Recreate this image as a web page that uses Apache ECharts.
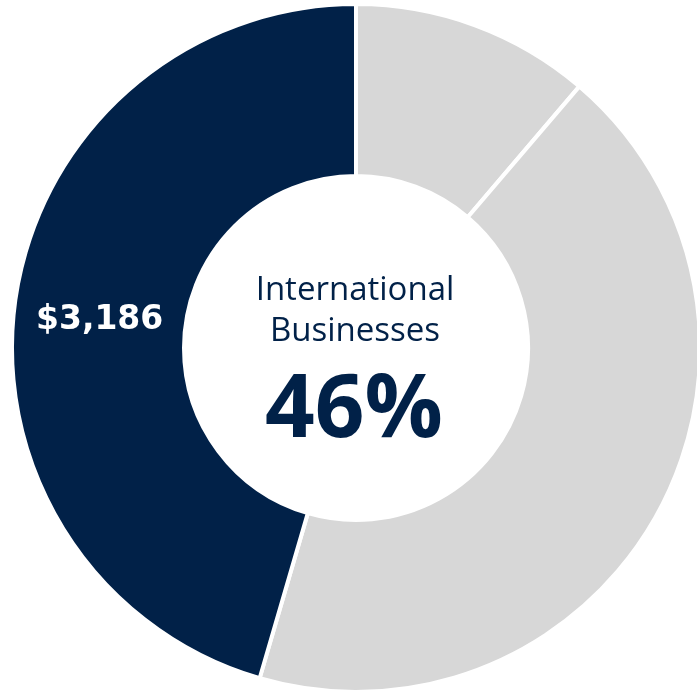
<!DOCTYPE html>
<html>
<head>
<meta charset="utf-8">
<style>
html,body{margin:0;padding:0;background:#fff;}
#chart{width:697px;height:693px;}
</style>
<script src="https://cdn.jsdelivr.net/npm/echarts@6/dist/echarts.min.js"></script>
</head>
<body>
<div id="chart"></div>
<script>
// Data (clockwise from 12 o'clock)
var categories = ['Other A', 'Other B', 'International Businesses'];
var values = [788, 3031, 3186];
var colors = ['#d7d7d7', '#d7d7d7', '#012148'];
var labelledIndex = 2;
var centerTitleLines = ['International', 'Businesses'];
var centerPct = '46%';

var navy = '#012148';
var chart = echarts.init(document.getElementById('chart'), null, {renderer: 'canvas'});

function fmtMoney(v) {
  return '$' + v.toString().replace(/\B(?=(\d{3})+(?!\d))/g, ',');
}

var data = categories.map(function (c, i) {
  var item = {name: c, value: values[i], itemStyle: {color: colors[i]}};
  if (i === labelledIndex) {
    item.label = {
      show: true,
      position: 'inside',
      formatter: function (p) { return fmtMoney(p.value); },
      color: '#ffffff',
      fontFamily: 'DejaVu Sans',
      fontWeight: 'bold',
      fontSize: 33
    };
  }
  return item;
});

var option = {
  backgroundColor: '#ffffff',
  animation: false,
  series: [{
    type: 'pie',
    center: [356, 348],
    radius: [172, 344],
    startAngle: 90,
    clockwise: true,
    avoidLabelOverlap: false,
    label: {show: false},
    labelLine: {show: false},
    labelLayout: {dy: 9, dx: 2},
    emphasis: {disabled: true},
    itemStyle: {borderColor: '#ffffff', borderWidth: 4},
    data: data
  }],
  graphic: [
    {type: 'text', x: 355, y: 291, style: {text: centerTitleLines[0], fill: navy, font: '33px "Open Sans"', align: 'center', verticalAlign: 'middle'}},
    {type: 'text', x: 355, y: 332, style: {text: centerTitleLines[1], fill: navy, font: '33px "Open Sans"', align: 'center', verticalAlign: 'middle'}},
    {type: 'text', x: 354, y: 412, style: {text: centerPct, fill: navy, font: 'bold 87px "Open Sans"', align: 'center', verticalAlign: 'middle'}}
  ]
};
chart.setOption(option);
</script>
</body>
</html>
